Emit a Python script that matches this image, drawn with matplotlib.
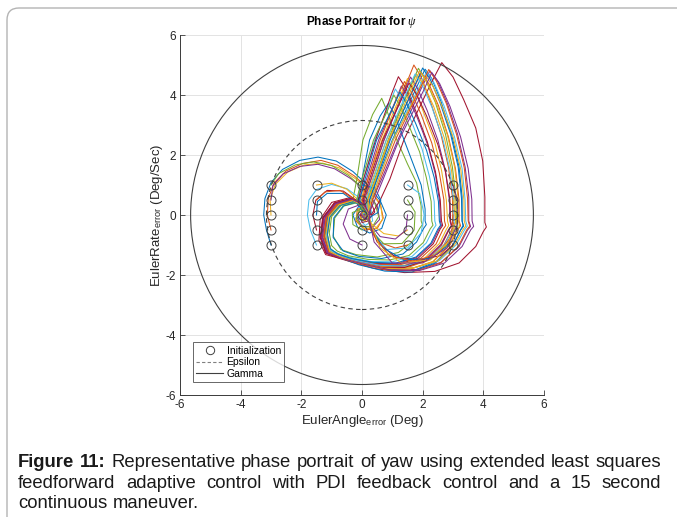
import matplotlib
matplotlib.use("Agg")
import matplotlib.pyplot as plt
import numpy as np
from matplotlib.patches import Circle, FancyBboxPatch
from matplotlib.lines import Line2D

plt.rcParams['font.family'] = ['Liberation Sans', 'DejaVu Sans']
plt.rcParams['mathtext.fontset'] = 'custom'
plt.rcParams['mathtext.rm'] = 'Liberation Sans'
plt.rcParams['mathtext.it'] = 'Liberation Serif:italic'
plt.rcParams['mathtext.bf'] = 'Liberation Sans:bold'
plt.rcParams['axes.unicode_minus'] = False

# ---------------- data ----------------
init_x = [-3.0, -1.5, 0.0, 1.5, 3.0]
init_y = [-1.0, -0.5, 0.0, 0.5, 1.0]
gamma_radius = 5.65
epsilon_radius = 3.15
x_ticks = [-6, -4, -2, 0, 2, 4, 6]
y_ticks = [-6, -4, -2, 0, 2, 4, 6]

traj_00 = [(-3.0,-1.0),(-3.15,-0.5),(-3.24,0.0),(-3.2,0.55),(-3.0,1.08),(-2.62,1.52),(-2.05,1.82),(-1.45,1.93),(-0.85,1.8),(-0.3,1.45),(0.2,0.98),(0.6,0.48),(0.8,0.0),(0.65,-0.45),(0.25,-0.6),(-0.15,-0.4),(-0.3,0.0),(-0.1,0.3),(0.2,0.25),(0.3,0.0),
           (0.25,0.5),(0.5,1.2),(1.0,2.5),(1.8,4.26),(2.08,4.86),(2.3,4.55),(2.6,3.8),(2.95,2.7),(3.2,1.6),(3.3,0.6),(3.3,-0.2),(3.33,-0.35),(3.25,-0.5),(3.0,-1.0),(2.45,-1.55),(1.7,-1.85),(0.8,-1.8),(-0.1,-1.6),(-0.7,-1.4),(-1.1,-1.2),(-1.25,-0.7),(-1.15,-0.1),(-0.8,0.35),(-0.3,0.5),(0.1,0.3),(0.25,0.05),(0.1,-0.12),(0.0,0.0),(0.12,0.08)]
traj_01 = [(-3.0,-0.5),(-3.12,0.0),(-3.09,0.55),(-2.9,1.07),(-2.5,1.47),(-1.95,1.72),(-1.35,1.82),(-0.8,1.66),(-0.25,1.3),(0.25,0.85),(0.6,0.38),(0.7,-0.1),(0.5,-0.45),(0.1,-0.5),(-0.2,-0.2),(-0.15,0.2),(0.15,0.25),(0.25,0.0),
           (0.05,0.5),(0.3,1.2),(0.72,2.5),(1.47,4.4),(1.71,5.0),(1.95,4.6),(2.25,3.8),(2.6,2.7),(2.85,1.6),(2.98,0.6),(3.0,-0.2),(3.04,-0.38),(2.95,-0.5),(2.7,-1.0),(2.2,-1.5),(1.5,-1.75),(0.7,-1.72),(-0.1,-1.55),(-0.75,-1.38),(-1.15,-1.22),(-1.3,-0.7),(-1.2,-0.05),(-0.85,0.35),(-0.35,0.5),(0.05,0.32),(0.22,0.05),(0.08,-0.1),(-0.02,0.02),(0.1,0.08)]
traj_02 = [(-3.0,0.0),(-3.03,0.5),(-2.86,1.02),(-2.45,1.43),(-1.9,1.67),(-1.3,1.73),(-0.75,1.57),(-0.2,1.2),(0.3,0.78),(0.62,0.3),(0.68,-0.15),(0.45,-0.45),(0.05,-0.45),(-0.2,-0.15),(-0.1,0.2),(0.18,0.22),(0.24,0.0),
           (-0.05,0.5),(0.2,1.2),(0.66,2.5),(1.25,3.95),(1.5,4.55),(1.72,4.2),(2.02,3.45),(2.38,2.5),(2.62,1.5),(2.78,0.5),(2.82,-0.2),(2.86,-0.35),(2.78,-0.48),(2.55,-0.95),(2.05,-1.45),(1.4,-1.68),(0.6,-1.65),(-0.15,-1.5),(-0.7,-1.33),(-1.05,-1.15),(-1.2,-0.65),(-1.1,-0.05),(-0.75,0.33),(-0.3,0.45),(0.05,0.3),(0.2,0.05),(0.05,-0.08),(0.0,0.03)]
traj_03 = [(-3.0,0.5),(-2.94,0.97),(-2.6,1.37),(-2.05,1.62),(-1.45,1.69),(-0.9,1.54),(-0.35,1.2),(0.15,0.78),(0.5,0.3),(0.58,-0.15),(0.35,-0.4),(0.0,-0.38),(-0.15,-0.1),(0.05,0.18),(0.25,0.1),
           (0.34,0.5),(0.65,1.2),(1.18,2.5),(1.95,4.21),(2.24,4.81),(2.5,4.45),(2.82,3.7),(3.15,2.7),(3.4,1.6),(3.52,0.6),(3.52,-0.2),(3.58,-0.38),(3.48,-0.5),(3.2,-1.05),(2.6,-1.58),(1.8,-1.82),(0.9,-1.8),(0.0,-1.62),(-0.7,-1.42),(-1.15,-1.25),(-1.35,-0.75),(-1.28,-0.1),(-0.9,0.4),(-0.35,0.55),(0.05,0.35),(0.25,0.05),(0.1,-0.12),(-0.02,0.0)]
traj_04 = [(-3.0,1.0),(-2.75,1.38),(-2.2,1.67),(-1.6,1.77),(-1.0,1.65),(-0.45,1.32),(0.05,0.88),(0.42,0.4),(0.55,-0.05),(0.35,-0.38),(0.0,-0.4),(-0.2,-0.1),(-0.05,0.2),(0.2,0.15),
           (-0.3,0.5),(-0.17,1.2),(0.03,2.5),(0.35,3.35),(0.65,3.89),(0.85,3.4),(1.15,2.5),(1.5,1.7),(1.8,1.07),(1.95,0.3),(1.95,-0.2),(1.99,-0.32),(1.9,-0.45),(1.65,-0.9),(1.2,-1.25),(0.5,-1.4),(-0.2,-1.32),(-0.7,-1.15),(-0.95,-0.7),(-0.9,-0.1),(-0.6,0.3),(-0.2,0.4),(0.1,0.25),(0.2,0.02),(0.05,-0.1),(0.0,0.02)]
traj_05 = [(-1.5,-1.0),(-1.7,-0.5),(-1.8,0.0),(-1.75,0.5),(-1.5,0.85),(-1.0,1.02),(-0.5,0.88),(-0.05,0.55),(0.3,0.15),(0.35,-0.2),(0.1,-0.35),(-0.1,-0.1),(0.05,0.15),(0.25,0.05),
           (0.3,0.5),(0.55,1.2),(1.02,2.5),(1.85,4.2),(2.13,4.78),(2.38,4.4),(2.7,3.65),(3.05,2.6),(3.3,1.55),(3.4,0.5),(3.42,-0.2),(3.47,-0.37),(3.38,-0.5),(3.1,-1.0),(2.55,-1.52),(1.75,-1.75),(0.85,-1.74),(0.0,-1.57),(-0.65,-1.38),(-1.05,-1.2),(-1.2,-0.7),(-1.12,-0.05),(-0.78,0.35),(-0.3,0.48),(0.05,0.32),(0.22,0.05),(0.07,-0.1),(0.0,0.02)]
traj_06 = [(-1.5,-0.5),(-1.62,0.0),(-1.52,0.5),(-1.15,0.82),(-0.62,0.8),(-0.2,0.5),(0.15,0.1),(0.2,-0.2),(0.0,-0.25),(-0.05,0.0),(0.15,0.05),(0.3,0.0),
           (0.6,0.5),(0.92,1.2),(1.38,2.5),(2.28,4.4),(2.63,5.08),(3.0,4.6),(3.35,3.85),(3.75,2.9),(3.98,1.8),(4.05,0.6),(4.05,-0.25),(4.1,-0.4),(4.0,-0.55),(3.75,-1.05),(3.2,-1.6),(2.4,-1.88),(1.4,-1.92),(0.4,-1.78),(-0.4,-1.55),(-0.9,-1.4),(-1.2,-1.32),(-1.42,-0.85),(-1.38,-0.15),(-1.0,0.42),(-0.4,0.58),(0.05,0.38),(0.27,0.06),(0.12,-0.14),(-0.03,0.0)]
traj_07 = [(-1.5,0.0),(-1.47,0.45),(-1.15,0.72),(-0.62,0.72),(-0.2,0.42),(0.1,0.05),(0.1,-0.2),(-0.05,-0.15),(0.05,0.05),
           (-0.15,0.5),(0.0,1.2),(0.25,2.5),(0.6,3.3),(0.87,3.72),(1.07,3.35),(1.35,2.6),(1.65,1.8),(1.95,1.0),(2.08,0.2),(2.08,-0.2),(2.12,-0.32),(2.03,-0.45),(1.8,-0.9),(1.35,-1.3),(0.65,-1.45),(-0.1,-1.38),(-0.62,-1.2),(-0.95,-0.75),(-0.93,-0.1),(-0.62,0.3),(-0.22,0.42),(0.08,0.26),(0.2,0.03),(0.05,-0.1),(0.0,0.02)]
traj_08 = [(-1.5,0.5),(-1.22,0.77),(-0.72,0.82),(-0.25,0.52),(0.1,0.12),(0.12,-0.18),(-0.05,-0.15),(0.0,0.08),(0.2,0.05),
           (0.2,0.5),(0.45,1.2),(0.9,2.5),(1.68,4.15),(1.95,4.75),(2.2,4.38),(2.52,3.65),(2.85,2.6),(3.08,1.55),(3.2,0.5),(3.2,-0.2),(3.25,-0.36),(3.15,-0.5),(2.9,-1.0),(2.35,-1.55),(1.6,-1.8),(0.75,-1.78),(-0.1,-1.6),(-0.7,-1.4),(-1.08,-1.24),(-1.25,-0.72),(-1.16,-0.07),(-0.8,0.35),(-0.32,0.5),(0.05,0.32),(0.22,0.05),(0.08,-0.1),(0.0,0.02)]
traj_09 = [(-1.5,1.0),(-1.0,1.06),(-0.5,0.86),(-0.08,0.45),(0.15,0.05),(0.1,-0.2),(-0.05,-0.1),(0.05,0.1),(0.2,0.05),
           (0.12,0.5),(0.35,1.2),(0.8,2.5),(1.53,4.1),(1.8,4.7),(2.05,4.32),(2.37,3.6),(2.72,2.55),(2.95,1.5),(3.06,0.5),(3.08,-0.2),(3.12,-0.36),(3.02,-0.5),(2.78,-0.98),(2.25,-1.5),(1.5,-1.72),(0.65,-1.7),(-0.15,-1.52),(-0.72,-1.35),(-1.02,-1.18),(-1.15,-0.68),(-1.06,-0.06),(-0.72,0.33),(-0.28,0.46),(0.06,0.3),(0.2,0.04),(0.06,-0.1),(0.0,0.03)]
traj_10 = [(0.0,-1.0),(-0.4,-0.8),(-0.62,-0.3),(-0.45,0.2),(-0.05,0.35),(0.22,0.1),(0.15,-0.15),(0.0,-0.05),(0.15,0.05),
           (-0.1,0.5),(0.15,1.2),(0.55,2.5),(1.08,3.75),(1.3,4.3),(1.52,3.95),(1.82,3.25),(2.18,2.3),(2.42,1.35),(2.56,0.45),(2.58,-0.2),(2.62,-0.35),(2.53,-0.48),(2.3,-0.95),(1.8,-1.42),(1.15,-1.62),(0.4,-1.62),(-0.35,-1.48),(-0.85,-1.35),(-1.15,-1.2),(-1.32,-0.72),(-1.25,-0.08),(-0.88,0.38),(-0.35,0.52),(0.05,0.33),(0.24,0.05),(0.08,-0.12),(-0.02,0.02)]
traj_11 = [(0.0,-0.5),(-0.3,-0.32),(-0.32,0.08),(0.02,0.22),(0.18,0.02),(0.05,-0.1),(0.15,0.0),
           (0.18,0.5),(0.42,1.2),(0.86,2.5),(1.6,4.3),(1.86,4.89),(2.1,4.5),(2.42,3.75),(2.75,2.7),(2.98,1.6),(3.1,0.55),(3.12,-0.2),(3.16,-0.36),(3.06,-0.5),(2.8,-1.0),(2.28,-1.46),(1.55,-1.68),(0.7,-1.67),(-0.1,-1.5),(-0.68,-1.34),(-1.02,-1.18),(-1.16,-0.7),(-1.08,-0.07),(-0.74,0.33),(-0.3,0.47),(0.05,0.31),(0.21,0.05),(0.07,-0.1),(0.0,0.02)]
traj_12 = [(0.0,0.0),(0.12,0.1),(0.2,0.0),
           (-0.15,0.5),(0.05,1.2),(0.42,2.5),(0.9,3.7),(1.1,4.2),(1.32,3.85),(1.62,3.15),(1.98,2.2),(2.22,1.3),(2.38,0.45),(2.4,-0.2),(2.44,-0.34),(2.35,-0.47),(2.12,-0.93),(1.65,-1.38),(1.0,-1.56),(0.3,-1.55),(-0.4,-1.42),(-0.82,-1.28),(-1.05,-1.12),(-1.15,-0.65),(-1.07,-0.06),(-0.73,0.33),(-0.28,0.45),(0.06,0.29),(0.2,0.04),(0.06,-0.1),(0.0,0.02)]
traj_13 = [(0.0,0.5),(0.3,0.42),(0.42,0.1),(0.25,-0.12),(0.1,-0.05),(0.15,0.05),
           (-0.12,0.5),(0.05,1.2),(0.45,2.5),(0.98,4.05),(1.2,4.61),(1.45,4.22),(1.78,3.45),(2.15,2.45),(2.42,1.45),(2.58,0.5),(2.62,-0.2),(2.66,-0.35),(2.57,-0.48),(2.35,-0.96),(1.85,-1.44),(1.2,-1.64),(0.45,-1.63),(-0.3,-1.5),(-0.85,-1.38),(-1.2,-1.26),(-1.38,-0.75),(-1.3,-0.1),(-0.92,0.4),(-0.36,0.55),(0.05,0.35),(0.25,0.05),(0.1,-0.13),(-0.02,0.01)]
traj_14 = [(0.0,1.0),(0.42,0.9),(0.62,0.5),(0.52,0.08),(0.25,-0.08),(0.12,0.02),(0.22,0.05),
           (0.25,0.5),(0.48,1.2),(0.93,2.5),(1.73,4.3),(2.0,4.9),(2.25,4.52),(2.57,3.75),(2.92,2.7),(3.17,1.6),(3.28,0.55),(3.3,-0.2),(3.35,-0.37),(3.25,-0.5),(2.98,-1.05),(2.42,-1.6),(1.65,-1.9),(0.75,-1.87),(-0.1,-1.66),(-0.72,-1.43),(-1.08,-1.24),(-1.22,-0.72),(-1.13,-0.07),(-0.78,0.35),(-0.3,0.5),(0.05,0.32),(0.22,0.05),(0.07,-0.11),(0.0,0.02)]
traj_15 = [(1.5,-1.0),(1.1,-1.1),(0.6,-0.92),(0.28,-0.5),(0.2,-0.1),(0.12,0.05),
           (0.0,0.5),(0.2,1.2),(0.6,2.5),(1.15,3.9),(1.4,4.45),(1.63,4.08),(1.95,3.35),(2.3,2.4),(2.55,1.4),(2.7,0.5),(2.72,-0.2),(2.76,-0.35),(2.67,-0.48),(2.44,-0.97),(1.93,-1.45),(1.25,-1.66),(0.5,-1.65),(-0.25,-1.5),(-0.78,-1.35),(-1.1,-1.2),(-1.26,-0.7),(-1.18,-0.06),(-0.82,0.35),(-0.32,0.5),(0.05,0.32),(0.22,0.05),(0.08,-0.11),(0.0,0.02)]
traj_16 = [(1.5,-0.5),(1.2,-0.7),(0.72,-0.62),(0.32,-0.3),(0.18,0.0),
           (0.3,0.5),(0.55,1.2),(1.03,2.5),(1.83,4.08),(2.1,4.65),(2.35,4.27),(2.67,3.55),(3.02,2.55),(3.26,1.5),(3.36,0.5),(3.37,-0.2),(3.42,-0.37),(3.32,-0.5),(3.05,-1.0),(2.5,-1.53),(1.72,-1.76),(0.82,-1.74),(-0.02,-1.57),(-0.66,-1.38),(-1.02,-1.2),(-1.14,-0.68),(-1.05,-0.06),(-0.72,0.33),(-0.27,0.46),(0.06,0.3),(0.2,0.04),(0.06,-0.1),(0.0,0.02)]
traj_17 = [(1.5,0.0),(1.45,-0.5),(1.1,-0.8),(0.6,-0.72),(0.28,-0.32),(0.2,0.0),
           (0.08,0.5),(0.3,1.2),(0.73,2.5),(1.35,4.02),(1.6,4.6),(1.83,4.22),(2.15,3.48),(2.5,2.5),(2.75,1.48),(2.88,0.5),(2.9,-0.2),(2.94,-0.36),(2.85,-0.49),(2.6,-0.98),(2.08,-1.48),(1.38,-1.7),(0.6,-1.68),(-0.2,-1.53),(-0.8,-1.4),(-1.18,-1.25),(-1.35,-0.74),(-1.28,-0.08),(-0.9,0.38),(-0.36,0.54),(0.05,0.34),(0.24,0.05),(0.09,-0.12),(-0.02,0.01)]
traj_18 = [(1.5,0.5),(1.75,0.1),(1.72,-0.5),(1.32,-0.95),(0.72,-0.96),(0.3,-0.52),(0.18,-0.05),
           (-0.18,0.5),(0.0,1.2),(0.38,2.5),(0.85,3.5),(1.05,4.0),(1.27,3.62),(1.56,2.95),(1.9,2.1),(2.12,1.25),(2.28,0.45),(2.3,-0.2),(2.34,-0.34),(2.25,-0.46),(2.02,-0.92),(1.55,-1.35),(0.9,-1.5),(0.2,-1.48),(-0.45,-1.36),(-0.82,-1.2),(-1.0,-1.02),(-1.08,-0.6),(-1.0,-0.05),(-0.68,0.32),(-0.26,0.43),(0.06,0.28),(0.2,0.04),(0.06,-0.1),(0.0,0.02)]
traj_19 = [(1.5,1.0),(1.9,0.72),(2.05,0.0),(1.95,-0.6),(1.5,-1.1),(0.82,-1.15),(0.36,-0.62),(0.2,-0.1),
           (0.15,0.5),(0.38,1.2),(0.8,2.5),(1.48,4.1),(1.75,4.7),(1.99,4.32),(2.31,3.58),(2.66,2.55),(2.9,1.5),(3.02,0.5),(3.03,-0.2),(3.07,-0.36),(2.98,-0.5),(2.72,-0.98),(2.2,-1.48),(1.45,-1.7),(0.6,-1.68),(-0.18,-1.52),(-0.72,-1.36),(-1.04,-1.18),(-1.17,-0.68),(-1.08,-0.06),(-0.74,0.33),(-0.29,0.46),(0.06,0.3),(0.2,0.04),(0.06,-0.1),(0.0,0.02)]
traj_20 = [(3.0,-1.0),(2.6,-1.35),(1.9,-1.5),(1.1,-1.4),(0.5,-0.9),(0.25,-0.3),(0.2,0.0),
           (0.03,0.5),(0.25,1.2),(0.68,2.5),(1.3,3.85),(1.55,4.4),(1.8,4.02),(2.13,3.3),(2.5,2.35),(2.76,1.4),(2.9,0.5),(2.92,-0.2),(2.96,-0.36),(2.87,-0.49),(2.62,-1.0),(2.1,-1.52),(1.4,-1.75),(0.6,-1.74),(-0.2,-1.58),(-0.8,-1.42),(-1.18,-1.28),(-1.36,-0.76),(-1.28,-0.08),(-0.9,0.4),(-0.36,0.55),(0.05,0.34),(0.25,0.05),(0.1,-0.12),(-0.02,0.01)]
traj_21 = [(3.0,-0.5),(2.8,-1.05),(2.2,-1.45),(1.4,-1.5),(0.7,-1.1),(0.3,-0.4),(0.2,0.0),
           (-0.08,0.5),(0.1,1.2),(0.48,2.5),(1.03,3.6),(1.25,4.1),(1.47,3.73),(1.77,3.05),(2.13,2.15),(2.38,1.25),(2.52,0.45),(2.55,-0.2),(2.59,-0.34),(2.5,-0.47),(2.27,-0.94),(1.78,-1.4),(1.12,-1.6),(0.38,-1.58),(-0.35,-1.45),(-0.8,-1.3),(-1.05,-1.12),(-1.14,-0.64),(-1.06,-0.06),(-0.72,0.33),(-0.28,0.45),(0.06,0.29),(0.2,0.04),(0.06,-0.1),(0.0,0.02)]
traj_22 = [(3.0,0.0),(2.95,-0.7),(2.5,-1.3),(1.7,-1.55),(0.9,-1.35),(0.4,-0.7),(0.22,-0.1),
           (0.35,0.5),(0.6,1.2),(1.1,2.5),(1.93,4.25),(2.2,4.85),(2.45,4.47),(2.78,3.72),(3.12,2.68),(3.37,1.58),(3.48,0.55),(3.5,-0.2),(3.55,-0.37),(3.45,-0.5),(3.17,-1.05),(2.6,-1.6),(1.8,-1.86),(0.88,-1.84),(0.0,-1.65),(-0.7,-1.44),(-1.1,-1.25),(-1.25,-0.72),(-1.16,-0.07),(-0.8,0.35),(-0.32,0.5),(0.05,0.32),(0.22,0.05),(0.08,-0.11),(0.0,0.02)]
traj_23 = [(3.0,0.5),(3.1,-0.2),(2.85,-0.9),(2.2,-1.5),(1.3,-1.6),(0.6,-1.1),(0.3,-0.3),(0.22,0.0),
           (0.2,0.5),(0.45,1.2),(0.88,2.5),(1.63,4.2),(1.9,4.8),(2.15,4.42),(2.47,3.68),(2.82,2.65),(3.06,1.56),(3.17,0.52),(3.18,-0.2),(3.22,-0.36),(3.12,-0.5),(2.86,-1.02),(2.32,-1.56),(1.58,-1.8),(0.72,-1.78),(-0.1,-1.6),(-0.7,-1.4),(-1.06,-1.22),(-1.2,-0.7),(-1.1,-0.06),(-0.76,0.34),(-0.3,0.48),(0.05,0.31),(0.21,0.05),(0.07,-0.1),(0.0,0.02)]
traj_24 = [(3.0,1.0),(3.15,0.5),(3.15,-0.3),(2.8,-1.1),(2.0,-1.6),(1.0,-1.6),(0.4,-0.9),(0.25,-0.2),(0.25,0.1),
           (0.42,0.5),(0.7,1.2),(1.22,2.5),(2.03,4.15),(2.3,4.75),(2.56,4.38),(2.9,3.62),(3.25,2.6),(3.5,1.55),(3.62,0.52),(3.63,-0.2),(3.68,-0.38),(3.58,-0.5),(3.3,-1.05),(2.72,-1.6),(1.9,-1.85),(0.98,-1.84),(0.05,-1.64),(-0.68,-1.44),(-1.12,-1.27),(-1.3,-0.74),(-1.22,-0.08),(-0.86,0.38),(-0.34,0.53),(0.05,0.34),(0.24,0.05),(0.09,-0.12),(-0.02,0.01)]

trajectories = [traj_00, traj_01, traj_02, traj_03, traj_04, traj_05, traj_06, traj_07,
                traj_08, traj_09, traj_10, traj_11, traj_12, traj_13, traj_14, traj_15,
                traj_16, traj_17, traj_18, traj_19, traj_20, traj_21, traj_22, traj_23, traj_24]

matlab_colors = ['#0072BD', '#D95319', '#EDB120', '#7E2F8E', '#77AC30', '#4DBEEE', '#A2142F']

title_text = r'Phase Portrait for $\psi$'
xlabel_text = r'EulerAngle$_{\mathrm{error}}$ (Deg)'
ylabel_text = r'EulerRate$_{\mathrm{error}}$ (Deg/Sec)'
legend_labels = ['Initialization', 'Epsilon', 'Gamma']
caption_lines = [
    [("Figure", True), ("11:", True), ("Representative", False), ("phase", False), ("portrait", False),
     ("of", False), ("yaw", False), ("using", False), ("extended", False), ("least", False), ("squares", False)],
    [("feedforward", False), ("adaptive", False), ("control", False), ("with", False), ("PDI", False),
     ("feedback", False), ("control", False), ("and", False), ("a", False), ("15", False), ("second", False)],
    [("continuous", False), ("maneuver.", False)],
]

# ---------------- figure ----------------
W, H = 677, 517
fig = plt.figure(figsize=(W / 100, H / 100), dpi=100)

border = FancyBboxPatch((0.07, -0.5), 8.0, (H - 8) / 100 + 0.5,
                        boxstyle="round,pad=0,rounding_size=0.12",
                        transform=fig.dpi_scale_trans, facecolor='none',
                        edgecolor='#b4b4b4', linewidth=1.0)
fig.patches.append(border)

ax_l, ax_r, ax_t, ax_b = 180, 544, 35, 395
ax = fig.add_axes([ax_l / W, 1 - ax_b / H, (ax_r - ax_l) / W, (ax_b - ax_t) / H])

dark = '#262626'
for i, tr in enumerate(trajectories):
    xs = [p[0] for p in tr]
    ys = [p[1] for p in tr]
    ax.plot(xs, ys, color=matlab_colors[i % 7], lw=0.75, zorder=2, solid_joinstyle='round')

ax.add_patch(Circle((0, 0), epsilon_radius, fill=False, edgecolor='#404040', lw=0.8,
                    linestyle=(0, (4, 3)), zorder=3))
ax.add_patch(Circle((0, 0), gamma_radius, fill=False, edgecolor='#404040', lw=0.8, zorder=3))

gx, gy = np.meshgrid(init_x, init_y)
ax.plot(gx.ravel(), gy.ravel(), linestyle='none', marker='o', markersize=6.5,
        markerfacecolor='none', markeredgecolor='#404040', markeredgewidth=0.7, zorder=4)

ax.set_xlim(-6, 6)
ax.set_ylim(-6, 6)
ax.set_xticks(x_ticks)
ax.set_yticks(y_ticks)
ax.grid(True, color='#e3e3e3', lw=0.7, zorder=0)
ax.set_axisbelow(True)
for s in ['top', 'right']:
    ax.spines[s].set_visible(False)
for s in ['left', 'bottom']:
    ax.spines[s].set_color('#3a3a3a')
    ax.spines[s].set_linewidth(0.7)
ax.tick_params(direction='in', length=3.5, width=0.6, colors='#3a3a3a',
               labelsize=8.5, labelcolor=dark, pad=3)

ax.set_title(title_text, fontsize=8.5, fontweight='bold', color='black', pad=7)
ax.set_xlabel(xlabel_text, fontsize=9.5, color=dark, labelpad=1)
ax.set_ylabel(ylabel_text, fontsize=9.5, color=dark, labelpad=0)

handles = [Line2D([], [], linestyle='none', marker='o', markersize=6, markerfacecolor='none',
                  markeredgecolor='#404040', markeredgewidth=0.7),
           Line2D([], [], color='#808080', lw=0.8, linestyle=(0, (3, 2))),
           Line2D([], [], color='#404040', lw=0.8)]
leg = ax.legend(handles, legend_labels, loc='lower left', bbox_to_anchor=(0.035, 0.035),
                fontsize=7.5, frameon=True, fancybox=False, edgecolor='#404040',
                handlelength=2.6, handletextpad=0.3, borderpad=0.35, labelspacing=0.15,
                borderaxespad=0)
leg.get_frame().set_linewidth(0.7)

# ---------------- caption ----------------
cap_fs = 13.3
cap_left, cap_right = 18, 661
baselines = [467.0, 487.5, 508.0]
renderer = fig.canvas.get_renderer()
space_px = 0.278 * cap_fs * 100 / 72
for li, words in enumerate(caption_lines):
    texts = []
    widths = []
    for w, b in words:
        t = fig.text(0, 1 - baselines[li] / H, w, fontsize=cap_fs,
                     fontweight='bold' if b else 'normal', color='#1a1a1a', va='baseline', ha='left')
        texts.append(t)
        widths.append(t.get_window_extent(renderer).width)
    justify = li < len(caption_lines) - 1
    if justify:
        gap = (cap_right - cap_left - sum(widths)) / (len(words) - 1)
    else:
        gap = space_px
    x = cap_left
    for t, wd in zip(texts, widths):
        t.set_x(x / W)
        x += wd + gap

fig.savefig('out.png', dpi=100)
